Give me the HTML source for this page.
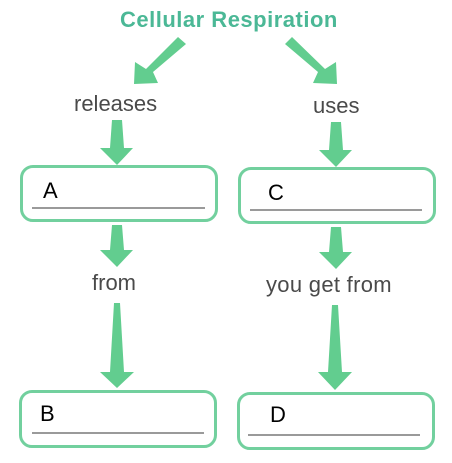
<!DOCTYPE html>
<html><head><style>
body{margin:0;background:#fff;width:452px;height:463px;overflow:hidden;position:relative;font-family:"Liberation Sans",sans-serif}
.t{position:absolute;color:#4a4a4a;font-size:22px;white-space:nowrap}
.box{position:absolute;border:3px solid #72d09e;border-radius:13px;box-sizing:border-box}
.ln{position:absolute;height:2px;background:#9a9a9a}
.l{position:absolute;font-size:22px;color:#000}
</style></head><body>
<div style="position:absolute;left:120px;top:7px;font-size:22px;font-weight:bold;color:#4bb896;white-space:nowrap;letter-spacing:0.5px">Cellular Respiration</div>
<svg width="452" height="463" style="position:absolute;left:0;top:0">
<g fill="#62cd8f">
<polygon points="178,37 186,44 153,72 158,83 134,84 135,62 146,69"/>
<polygon points="292,37 285,44 318,72 313,83 337,84 336,62 325,69"/>
<polygon points="112,120 122,120 124,148 133,148 117,165 100,148 110,148"/>
<polygon points="331,122 341,122 343,150 352,150 336,167 319,150 329,150"/>
<polygon points="112,225 122,225 124,250 133,250 117,267 100,250 110,250"/>
<polygon points="331,227 341,227 343,252 352,252 336,269 319,252 329,252"/>
<polygon points="114,303 120,303 124,372 134,372 117,388 100,372 110,372"/>
<polygon points="332,305 338,305 342,372 352,372 335,390 318,372 328,372"/>
</g>
</svg>
<div class="t" style="left:74px;top:91px">releases</div>
<div class="t" style="left:313px;top:93px">uses</div>
<div class="t" style="left:92px;top:270px">from</div>
<div class="t" style="left:266px;top:272px;letter-spacing:0.3px">you get from</div>
<div class="box" style="left:20px;top:165px;width:198px;height:57px"></div>
<div class="box" style="left:238px;top:167px;width:198px;height:57px"></div>
<div class="box" style="left:19px;top:390px;width:198px;height:58px"></div>
<div class="box" style="left:237px;top:392px;width:198px;height:58px"></div>
<div class="ln" style="left:32px;top:207px;width:173px"></div>
<div class="ln" style="left:250px;top:209px;width:172px"></div>
<div class="ln" style="left:32px;top:432px;width:172px"></div>
<div class="ln" style="left:248px;top:434px;width:172px"></div>
<div class="l" style="left:43px;top:178px">A</div>
<div class="l" style="left:268px;top:180px">C</div>
<div class="l" style="left:40px;top:401px">B</div>
<div class="l" style="left:270px;top:402px">D</div>
</body></html>
